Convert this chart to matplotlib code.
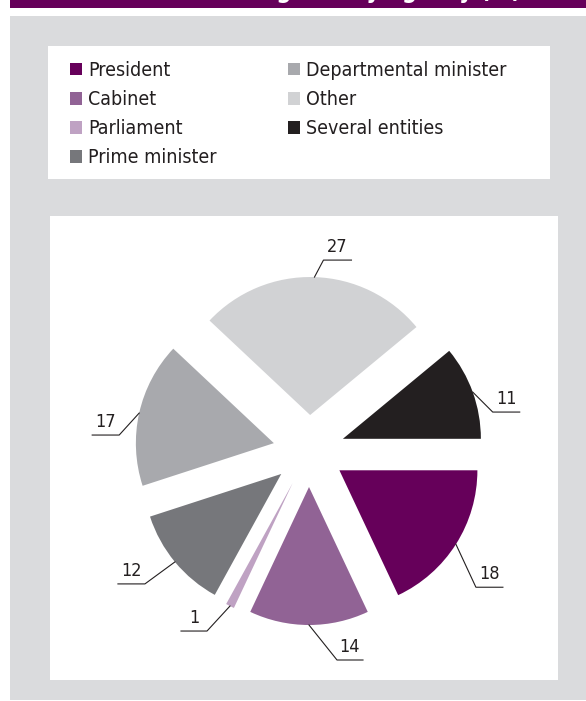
import numpy as np
import matplotlib.pyplot as plt
from matplotlib.patches import Rectangle

# data
agencies = ["President", "Cabinet", "Parliament", "Prime minister",
            "Departmental minister", "Other", "Several entities"]
shares = [18, 14, 1, 12, 17, 27, 11]
colors = ["#66005a", "#916395", "#bfa2c3", "#76777b",
          "#a8a9ad", "#d1d2d4", "#231f20"]

# leader lines: elbow offset from wedge edge (px right, px down), horizontal run (px)
elbows = [(20, 43), (28, 35), (-23, 25), (-30, 22), (-20, 22), (9, -17), (20, 20)]
runs = [27, 26, -26, -27, -27, 28, 27]

W, H, DPI = 586, 701, 100
R = 138.0  # pie radius in pixels

plt.rcParams['font.family'] = ['DejaVu Sans']
plt.rcParams['font.stretch'] = 'condensed'

fig = plt.figure(figsize=(W / DPI, H / DPI), dpi=DPI)


def box(x0, y0, x1, y1):
    # pixel box (top-left origin) -> figure fraction [l, b, w, h]
    return [x0 / W, 1 - y1 / H, (x1 - x0) / W, (y1 - y0) / H]


def rect(x0, y0, x1, y1, color):
    l, b, w, h = box(x0, y0, x1, y1)
    fig.add_artist(Rectangle((l, b), w, h, transform=fig.transFigure,
                             facecolor=color, edgecolor='none', zorder=-1))


# background panels
rect(10, 0, 586, 8, "#66005a")
rect(10, 16, 586, 700, "#dadbdd")
rect(48, 46, 550, 179, "white")
rect(50, 216, 558, 680, "white")

# title (cut off at the top, only descenders visible)
fig.text(521 / W, 1 + 2 / H, "Distribution of reform agents by agency (%)",
         ha='right', va='baseline', color='white', fontweight='bold', fontsize=17)

# pie
ax = fig.add_axes(box(50, 216, 558, 680))
wedges, _ = ax.pie(shares, colors=colors, startangle=0, counterclock=False,
                   explode=[36 / R] * len(shares), radius=1,
                   wedgeprops=dict(linewidth=0))
ax.set_xlim(-259 / R, 249 / R)
ax.set_ylim(-229 / R, 235 / R)
ax.set_aspect('auto')
ax.axis('off')

for w, v, (ex, ey), run in zip(wedges, shares, elbows, runs):
    th = np.deg2rad((w.theta1 + w.theta2) / 2)
    cx, cy = w.center
    x0 = cx + w.r * np.cos(th)
    y0 = cy + w.r * np.sin(th)
    xb = x0 + ex / R
    yb = y0 - ey / R
    xe = xb + run / R
    ax.plot([x0, xb, xe], [y0, yb, yb], color='#231f20', lw=0.8, clip_on=False)
    ax.text((xb + xe) / 2, yb + 8 / R, str(v), ha='center', va='baseline',
            fontsize=13, color='#231f20')

# legend
ax_leg = fig.add_axes(box(48, 46, 550, 179))
ax_leg.axis('off')
ax_leg.legend(wedges, agencies, ncol=2, loc='upper left',
              bbox_to_anchor=((70 - 48) / 502, (179 - 61) / 133),
              frameon=False, fontsize=14, handlelength=0.62, handleheight=0.62,
              handletextpad=0.3, labelspacing=0.52, columnspacing=3.7,
              borderaxespad=0, borderpad=0, labelcolor='#231f20')

fig.savefig("out.png", dpi=DPI)
